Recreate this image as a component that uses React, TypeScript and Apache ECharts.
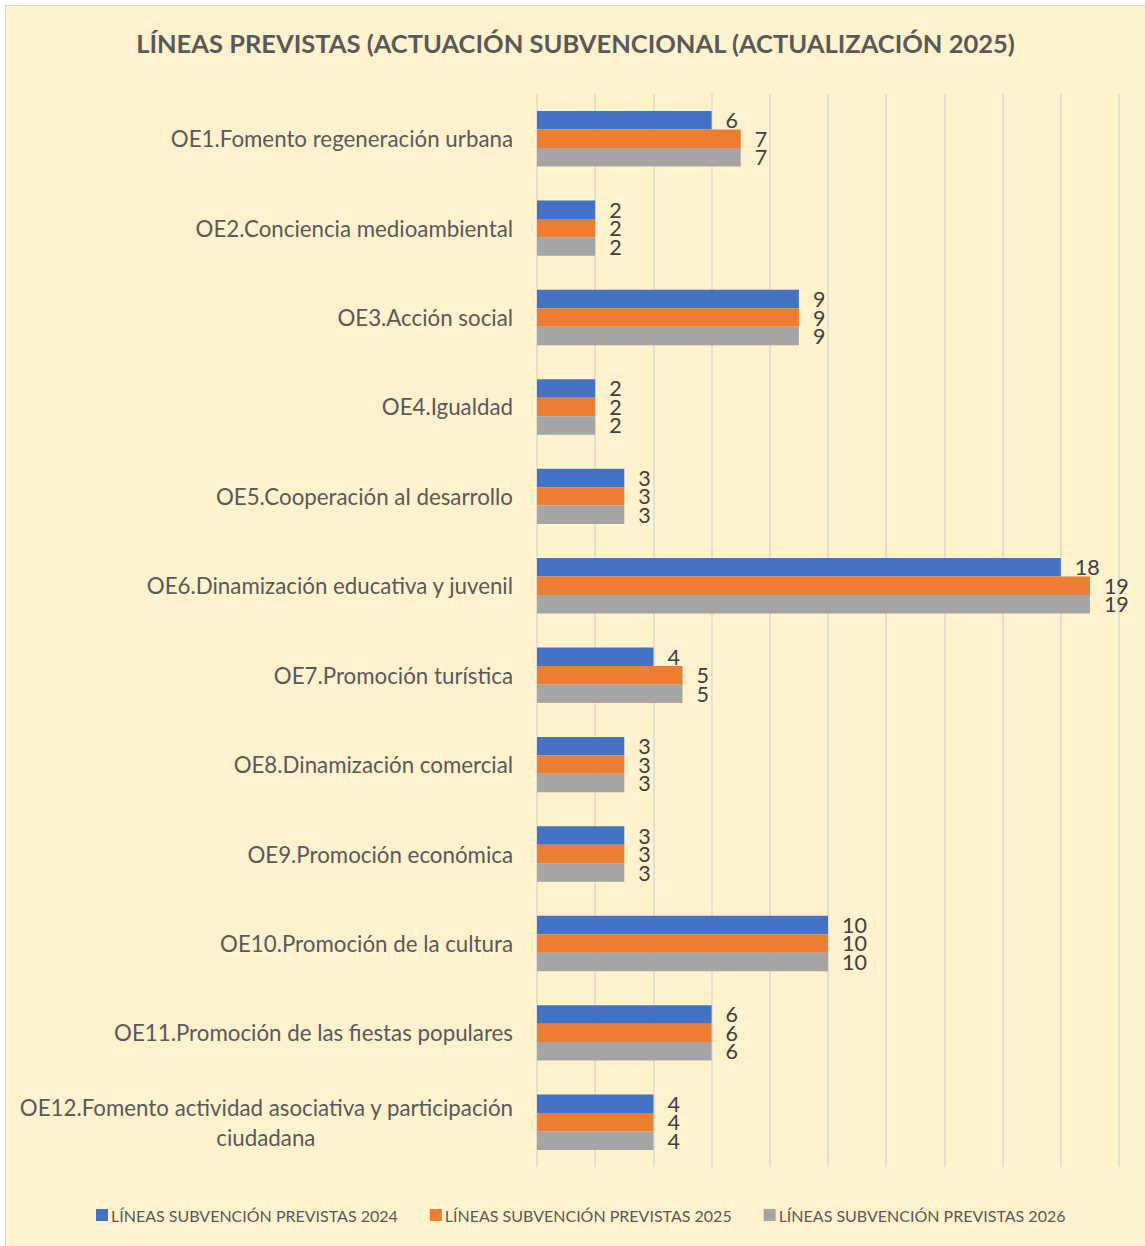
import React, { useEffect, useRef } from "react";
import * as echarts from "echarts";

const categories = [
  "OE1.Fomento regeneración urbana",
  "OE2.Conciencia medioambiental",
  "OE3.Acción social",
  "OE4.Igualdad",
  "OE5.Cooperación al desarrollo",
  "OE6.Dinamización educativa y juvenil",
  "OE7.Promoción turística",
  "OE8.Dinamización comercial",
  "OE9.Promoción económica",
  "OE10.Promoción de la cultura",
  "OE11.Promoción de las fiestas populares",
  "OE12.Fomento actividad asociativa y participación\nciudadana",
];

const seriesNames = [
  "LÍNEAS SUBVENCIÓN PREVISTAS 2024",
  "LÍNEAS SUBVENCIÓN PREVISTAS 2025",
  "LÍNEAS SUBVENCIÓN PREVISTAS 2026",
];

const values2024 = [6, 2, 9, 2, 3, 18, 4, 3, 3, 10, 6, 4];
const values2025 = [7, 2, 9, 2, 3, 19, 5, 3, 3, 10, 6, 4];
const values2026 = [7, 2, 9, 2, 3, 19, 5, 3, 3, 10, 6, 4];

const colors = ["#4472C4", "#ED7D31", "#A5A5A5"];

const title = "LÍNEAS PREVISTAS (ACTUACIÓN SUBVENCIONAL (ACTUALIZACIÓN 2025)";

const FONT = "Lato";

export default function App() {
  const ref = useRef<HTMLDivElement>(null);

  useEffect(() => {
    document.body.style.margin = "0";
    if (!ref.current) return;
    const chart = echarts.init(ref.current, null, { renderer: "svg" });
    const allValues = [values2024, values2025, values2026];
    chart.setOption({
      animation: false,
      backgroundColor: "#FFF2CC",
      color: colors,
      title: {
        text: title,
        left: "center",
        top: 19,
        textStyle: {
          fontFamily: FONT,
          fontWeight: "bold",
          fontSize: 25.5,
          color: "#595959",
        },
      },
      legend: {
        bottom: 18,
        left: 85,
        itemWidth: 12,
        itemHeight: 12,
        itemGap: 32,
        icon: "rect",
        textStyle: {
          fontFamily: FONT,
          fontSize: 16,
          color: "#595959",
          padding: [0, 0, 0, -2],
        },
        data: seriesNames,
      },
      grid: {
        left: 531,
        right: 26,
        top: 88,
        bottom: 79,
        containLabel: false,
      },
      xAxis: {
        type: "value",
        min: 0,
        max: 20,
        interval: 2,
        axisLabel: { show: false },
        axisLine: { show: false },
        axisTick: { show: false },
        splitLine: { show: true, lineStyle: { color: "#D9D9D9", width: 1.5 } },
      },
      yAxis: {
        type: "category",
        inverse: true,
        data: categories,
        axisLine: { show: false },
        axisTick: { show: false },
        axisLabel: {
          margin: 24,
          fontFamily: FONT,
          fontSize: 22.3,
          color: "#595959",
          lineHeight: 30,
          formatter: (v: string) => {
            const parts = v.split("\n");
            if (parts.length === 1) return v;
            return "{a|" + parts[0] + "}\n{b|" + parts[1] + "}";
          },
          rich: {
            a: { fontFamily: FONT, fontSize: 22.3, color: "#595959", lineHeight: 30 },
            b: { fontFamily: FONT, fontSize: 22.3, color: "#595959", lineHeight: 30, align: "center" },
          },
        },
      },
      series: seriesNames.map((name, i) => ({
        name,
        type: "bar",
        data: allValues[i],
        barGap: "0%",
        barCategoryGap: "38%",
        itemStyle: { color: colors[i] },
        label: {
          show: true,
          position: "right",
          distance: 14,
          fontFamily: FONT,
          fontSize: 21.5,
          color: "#404040",
        },
      })),
    });
    return () => chart.dispose();
  }, []);

  return (
    <div style={{ position: "absolute", left: 0, top: 0, width: 1145, height: 1246, overflow: "hidden", background: "#fff" }}>
      <div
        ref={ref}
        style={{
          position: "absolute",
          left: 5,
          top: 5,
          width: 1139,
          height: 1240,
          borderTop: "1px solid #D9D9D9",
          borderLeft: "1px solid #D9D9D9",
        }}
      />
    </div>
  );
}
